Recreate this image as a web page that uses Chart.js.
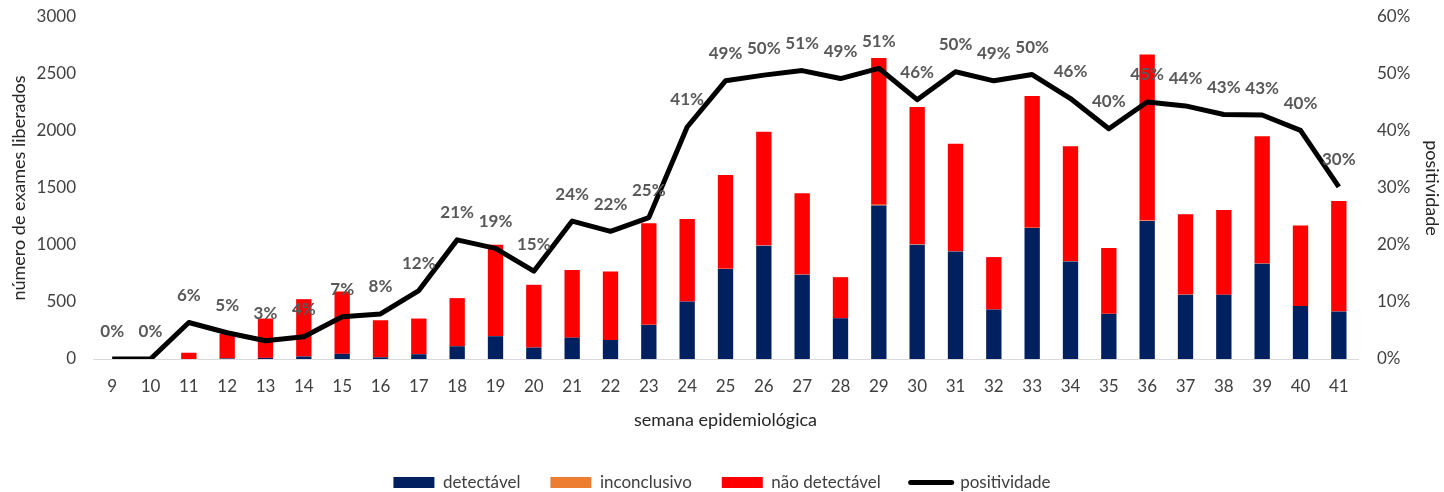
<!DOCTYPE html>
<html lang="pt">

<head>
    <meta charset="UTF-8">
    <script src="https://cdn.jsdelivr.net/npm/chart.js"></script>
    <title>Exames liberados por semana epidemiológica</title>
    <style>
        html, body { margin: 0; padding: 0; background: #fff; }
        .container { width: 1444px; height: 492px; }
    </style>
</head>

<body>
    <div class="container">
        <canvas id="chart-exames"></canvas>
    </div>
</body>

</html>

<script>
    // semanas epidemiológicas
    const semanas = ['9', '10', '11', '12', '13', '14', '15', '16', '17', '18', '19', '20', '21', '22', '23', '24', '25',
        '26', '27', '28', '29', '30', '31', '32', '33', '34', '35', '36', '37', '38', '39', '40', '41'];

    const detectavel = [0, 0, 0, 5, 10, 22, 45, 15, 42, 112, 200, 100, 187, 167, 299, 504, 789,
        994, 739, 358, 1346, 1003, 944, 434, 1149, 856, 396, 1211, 563, 563, 836, 466, 416];

    const inconclusivo = [0, 0, 0, 0, 0, 0, 0, 0, 0, 0, 2, 0, 0, 0, 2, 0, 3,
        3, 2, 0, 8, 3, 2, 0, 3, 2, 0, 3, 2, 0, 2, 0, 0];

    const naoDetectavel = [0, 0, 55, 215, 345, 503, 547, 325, 313, 422, 801, 551, 593, 601, 889, 724, 823,
        997, 713, 360, 1287, 1204, 942, 460, 1155, 1009, 578, 1457, 704, 745, 1117, 704, 971];

    // positividade (%)
    const positividade = [0, 0, 6.4, 4.6, 3.2, 3.9, 7.4, 7.9, 12.0, 20.9, 19.4, 15.4, 24.2, 22.4, 24.8, 40.7, 48.8,
        49.8, 50.6, 49.2, 51.0, 45.5, 50.4, 48.8, 49.9, 45.7, 40.4, 45.1, 44.4, 42.9, 42.8, 40.1, 30.2];

    const corTexto = '#404040';
    const fonte = "Lato, 'Open Sans', sans-serif";

    // rotulos de % acima da linha
    const rotulosLinha = {
        id: 'rotulosLinha',
        afterDatasetsDraw(chart) {
            const idx = chart.data.datasets.findIndex(d => d.type === 'line');
            const meta = chart.getDatasetMeta(idx);
            const ctx = chart.ctx;
            ctx.save();
            ctx.font = "bold 17px " + fonte;
            ctx.fillStyle = '#595959';
            ctx.textAlign = 'center';
            ctx.textBaseline = 'middle';
            meta.data.forEach((pt, i) => {
                ctx.fillText(Math.round(positividade[i]) + '%', pt.x, pt.y - 27);
            });
            ctx.restore();
        }
    };

    const ctxExames = document.getElementById('chart-exames');

    new Chart(ctxExames, {
        data: {
            labels: semanas,
            datasets: [{
                type: 'bar',
                label: 'detectável',
                backgroundColor: '#002060',
                data: detectavel,
                yAxisID: 'y',
                order: 1
            },
            {
                type: 'bar',
                label: 'inconclusivo',
                backgroundColor: '#ED7D31',
                data: inconclusivo,
                yAxisID: 'y',
                order: 1
            },
            {
                type: 'bar',
                label: 'não detectável',
                backgroundColor: '#FF0000',
                data: naoDetectavel,
                yAxisID: 'y',
                order: 1
            },
            {
                type: 'line',
                label: 'positividade',
                borderColor: '#000000',
                backgroundColor: '#000000',
                borderWidth: 5,
                borderJoinStyle: 'round',
                pointRadius: 0,
                tension: 0,
                data: positividade,
                yAxisID: 'y1',
                order: 0
            }
            ]
        },
        options: {
            responsive: true,
            maintainAspectRatio: false,
            animation: false,
            datasets: {
                bar: {
                    barPercentage: 0.4,
                    categoryPercentage: 1.0
                }
            },
            layout: {
                padding: {
                    left: 0,
                    right: 0,
                    top: 17,
                    bottom: -9
                }
            },
            plugins: {
                tooltip: { enabled: false },
                legend: {
                    position: 'bottom',
                    labels: {
                        sort: (a, b) => a.datasetIndex - b.datasetIndex,
                        usePointStyle: true,
                        pointStyleWidth: 41,
                        boxHeight: 11,
                        padding: 30,
                        color: corTexto,
                        font: { family: fonte, size: 17 },
                        generateLabels(chart) {
                            const itens = Chart.defaults.plugins.legend.labels.generateLabels(chart);
                            itens.forEach(item => {
                                if (chart.data.datasets[item.datasetIndex].type === 'line') {
                                    item.pointStyle = 'line';
                                    item.lineWidth = 5;
                                    item.lineCap = 'round';
                                    item.strokeStyle = '#000000';
                                } else {
                                    item.pointStyle = 'rect';
                                    item.lineWidth = 0;
                                }
                            });
                            return itens;
                        }
                    }
                }
            },
            scales: {
                x: {
                    stacked: true,
                    grid: { display: false, drawTicks: false },
                    border: { color: '#d9d9d9', width: 1 },
                    afterFit: s => { s.height = 85; },
                    ticks: {
                        color: corTexto,
                        font: { family: fonte, size: 17 },
                        maxRotation: 0,
                        padding: 17
                    },
                    title: {
                        display: true,
                        text: 'semana epidemiológica',
                        color: '#262626',
                        font: { family: fonte, size: 18 },
                        padding: { top: 10, bottom: 13 }
                    }
                },
                y: {
                    stacked: true,
                    position: 'left',
                    min: 0,
                    max: 3000,
                    grid: { display: false, drawTicks: false },
                    border: { display: false },
                    afterFit: s => { s.width = 93; s.paddingTop = 0; },
                    ticks: {
                        stepSize: 500,
                        color: corTexto,
                        font: { family: fonte, size: 17 },
                        padding: 17,
                        callback: v => String(v)
                    },
                    title: {
                        display: true,
                        text: 'número de exames liberados',
                        color: '#262626',
                        font: { family: fonte, size: 18 },
                        padding: 8
                    }
                },
                y1: {
                    position: 'right',
                    min: 0,
                    max: 60,
                    grid: { display: false, drawTicks: false },
                    border: { display: false },
                    afterFit: s => { s.width = 86; s.paddingTop = 0; },
                    ticks: {
                        stepSize: 10,
                        color: corTexto,
                        font: { family: fonte, size: 17 },
                        padding: 19,
                        callback: v => v + '%'
                    },
                    title: {
                        display: true,
                        text: 'positividade',
                        color: '#262626',
                        font: { family: fonte, size: 18 },
                        padding: 1
                    }
                }
            }
        },
        plugins: [rotulosLinha]
    });
</script>
